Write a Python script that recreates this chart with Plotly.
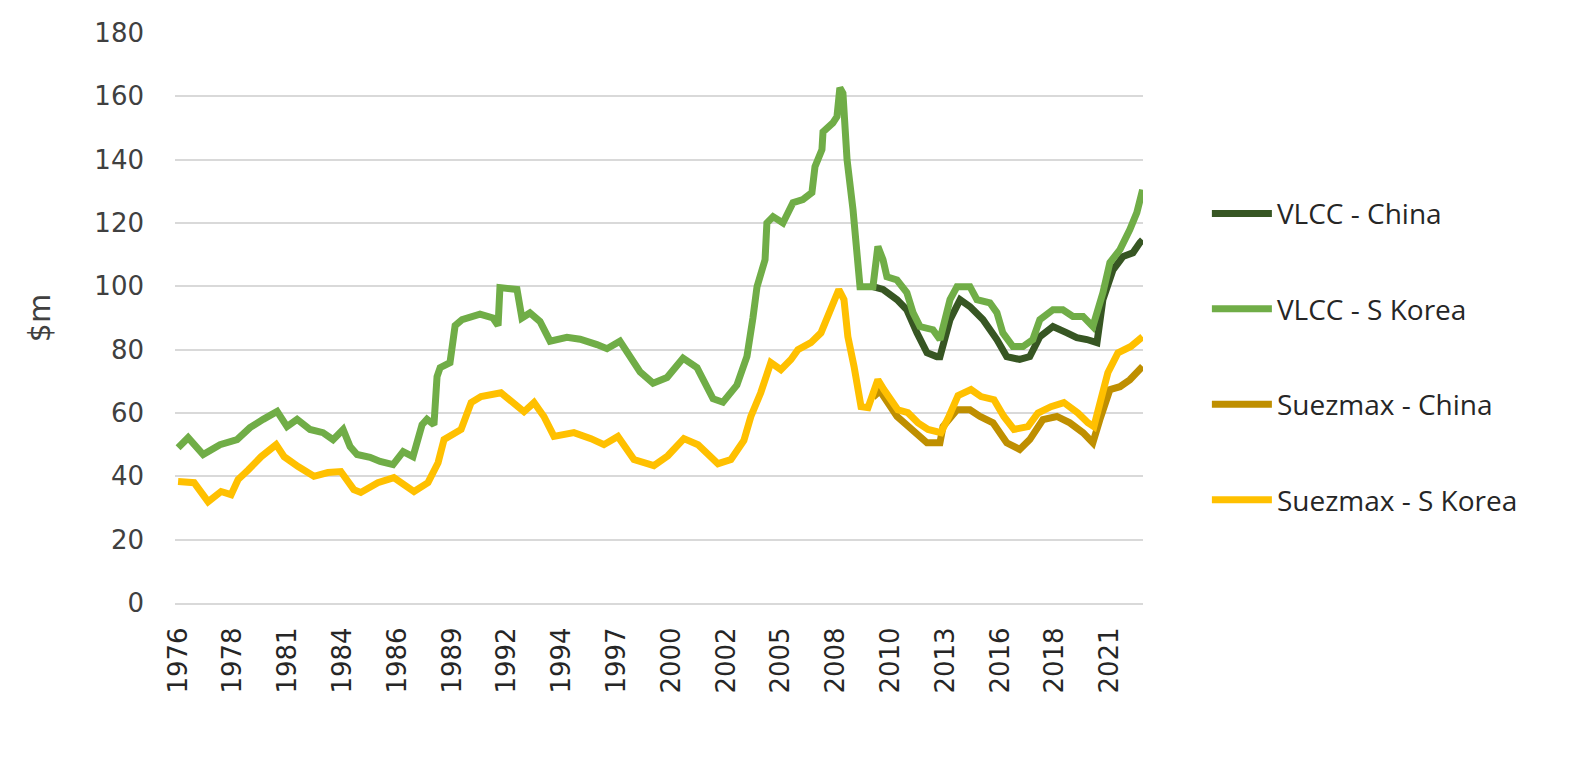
import plotly.graph_objects as go

# Decimal-year positions and values ($m)
vlcc_kr_t = [1976.0, 1976.49, 1977.22, 1978.04, 1978.87, 1979.50, 1980.14, 1980.82, 1981.30, 1981.79,
             1982.42, 1983.05, 1983.54, 1984.03, 1984.37, 1984.71, 1985.34, 1985.83, 1986.46, 1986.95,
             1987.43, 1987.87, 1988.11, 1988.45, 1988.60, 1988.75, 1989.23, 1989.48, 1989.82, 1990.21,
             1990.69, 1991.32, 1991.57, 1991.66, 1992.49, 1992.73, 1993.12, 1993.61, 1994.10, 1994.92,
             1995.56, 1996.38, 1996.87, 1997.50, 1997.84, 1998.48, 1999.11, 1999.79, 2000.57, 2001.25,
             2002.03, 2002.51, 2003.19, 2003.68, 2003.97, 2004.17, 2004.56, 2004.65, 2004.95, 2005.43,
             2005.92, 2006.40, 2006.84, 2006.99, 2007.33, 2007.38, 2007.86, 2008.06, 2008.20, 2008.35,
             2008.55, 2008.84, 2009.18, 2009.81, 2010.05, 2010.30, 2010.49, 2010.98, 2011.46, 2011.76,
             2012.10, 2012.73, 2013.07, 2013.56, 2013.90, 2014.53, 2014.87, 2015.50, 2015.84, 2016.13,
             2016.62, 2017.11, 2017.59, 2017.93, 2018.57, 2019.05, 2019.54, 2020.03, 2020.51, 2021.00,
             2021.34, 2021.83, 2022.31, 2022.65, 2022.93]
vlcc_kr_v = [49.0, 52.2, 46.9, 50.0, 51.6, 55.4, 58.0, 60.5, 55.7, 58.0,
             54.8, 53.8, 51.6, 54.8, 49.4, 46.9, 46.0, 44.7, 43.7, 47.8,
             46.2, 56.3, 58.0, 56.3, 71.5, 74.3, 75.9, 87.6, 89.5, 90.5,
             91.2, 90.0, 87.6, 99.6, 99.0, 90.0, 91.6, 88.9, 82.7, 83.9,
             83.3, 81.6, 80.3, 82.7, 79.0, 73.0, 69.4, 71.2, 77.3, 74.3,
             64.5, 63.4, 68.8, 77.9, 90.0, 99.9, 108.4, 120.0, 122.0, 120.0,
             126.4, 127.4, 129.6, 137.8, 143.2, 148.8, 151.6, 153.6, 162.7, 161.0,
             140.0, 124.2, 99.9, 99.9, 112.6, 108.4, 103.0, 102.0, 98.0, 91.7,
             87.3, 86.3, 83.2, 95.8, 99.9, 99.9, 95.8, 94.8, 91.7, 85.3,
             81.0, 81.0, 83.2, 89.5, 92.6, 92.6, 90.5, 90.5, 87.3, 98.0,
             107.5, 111.6, 117.9, 123.3, 130.5]

vlcc_cn_t = [2009.81, 2010.30, 2010.98, 2011.46, 2011.95, 2012.44, 2012.92, 2013.07, 2013.56, 2014.05,
             2014.53, 2015.16, 2015.84, 2016.32, 2016.95, 2017.44, 2017.93, 2018.57, 2019.25, 2019.73,
             2020.22, 2020.71, 2021.00, 2021.49, 2021.97, 2022.46, 2022.80, 2022.93]
vlcc_cn_v = [99.9, 99.0, 95.8, 92.6, 85.3, 79.0, 77.8, 77.8, 89.5, 95.8,
             93.6, 89.5, 83.2, 77.8, 76.9, 77.8, 84.1, 87.3, 85.3, 83.8,
             83.2, 82.2, 95.8, 105.2, 109.4, 110.6, 113.8, 114.7]

suez_kr_t = [1976.0, 1976.78, 1977.46, 1978.09, 1978.58, 1978.92, 1979.41, 1980.04, 1980.77, 1981.16,
             1981.84, 1982.61, 1983.29, 1983.92, 1984.55, 1984.89, 1985.72, 1986.50, 1986.99, 1987.48,
             1988.16, 1988.65, 1988.94, 1989.77, 1990.26, 1990.74, 1991.71, 1992.34, 1992.83, 1993.32,
             1993.80, 1994.29, 1995.26, 1996.09, 1996.72, 1997.40, 1998.18, 1999.15, 1999.83, 2000.61,
             2001.30, 2002.27, 2002.90, 2003.53, 2003.87, 2004.35, 2004.84, 2005.33, 2005.82, 2006.16,
             2006.79, 2007.28, 2007.76, 2008.15, 2008.40, 2008.59, 2008.89, 2009.23, 2009.57, 2010.05,
             2010.34, 2011.02, 2011.51, 2012.00, 2012.49, 2013.12, 2013.51, 2013.95, 2014.58, 2015.07,
             2015.70, 2016.18, 2016.67, 2017.35, 2017.84, 2018.47, 2019.10, 2019.78, 2020.27, 2020.56,
             2020.90, 2021.24, 2021.73, 2022.36, 2022.93]
suez_kr_v = [38.4, 38.0, 32.0, 35.2, 34.2, 39.0, 42.0, 46.2, 50.0, 46.2,
             43.1, 40.0, 41.2, 41.5, 35.8, 34.9, 38.0, 39.6, 37.4, 35.2,
             38.0, 44.3, 51.6, 54.8, 63.3, 65.2, 66.4, 63.3, 60.4, 63.3,
             58.9, 52.6, 53.8, 51.9, 50.0, 52.6, 45.3, 43.4, 46.5, 51.9,
             50.0, 44.0, 45.3, 51.3, 58.9, 66.4, 75.9, 73.7, 76.9, 80.0,
             82.2, 85.3, 92.6, 99.0, 95.8, 84.1, 74.7, 62.0, 61.7, 70.5,
             67.4, 61.0, 60.1, 56.9, 54.8, 53.8, 59.0, 65.5, 67.4, 65.2,
             64.2, 58.9, 54.8, 55.7, 60.0, 62.0, 63.3, 60.0, 56.9, 55.7,
             64.2, 72.7, 79.0, 81.0, 84.1]

suez_cn_t = [2009.81, 2010.15, 2010.98, 2011.95, 2012.44, 2013.07, 2013.22, 2013.90, 2014.53, 2015.02,
             2015.65, 2016.32, 2016.95, 2017.44, 2018.08, 2018.76, 2019.39, 2020.03, 2020.51, 2020.85,
             2021.34, 2021.83, 2022.31, 2022.93]
suez_cn_v = [65.0, 67.0, 58.9, 53.8, 50.6, 50.6, 55.7, 61.0, 61.0, 58.9,
             56.9, 50.6, 48.5, 51.6, 57.9, 58.9, 56.9, 53.8, 50.6, 57.9,
             67.4, 68.3, 70.5, 74.7]

tick_labels = ["1976", "1978", "1981", "1984", "1986", "1989", "1992", "1994", "1997",
               "2000", "2002", "2005", "2008", "2010", "2013", "2016", "2018", "2021"]
tick_month_offsets = [32 * i for i in range(len(tick_labels))]
tick_vals = [1976 + m / 12 for m in tick_month_offsets]

series = [
    ("VLCC - China", vlcc_cn_t, vlcc_cn_v, "#375623"),
    ("VLCC - S Korea", vlcc_kr_t, vlcc_kr_v, "#70ad47"),
    ("Suezmax - China", suez_cn_t, suez_cn_v, "#bf8f00"),
    ("Suezmax - S Korea", suez_kr_t, suez_kr_v, "#ffc000"),
]

fig = go.Figure()
for name, t, v, c in series:
    fig.add_trace(go.Scatter(x=t, y=v, mode="lines", name=name, legendgroup=name,
                             line=dict(color=c, width=7)))

fig.update_layout(
    width=1571, height=772,
    margin=dict(l=175, r=428, t=33, b=169),
    plot_bgcolor="white", paper_bgcolor="white",
    font=dict(family="DejaVu Sans, sans-serif", color="#404040"),
    showlegend=True,
    legend=dict(x=1.066, y=0.432, xanchor="left", yanchor="middle",
                font=dict(size=28, color="#262626", family="Open Sans"),
                traceorder="grouped", tracegroupgap=56,
                itemwidth=60, bgcolor="rgba(0,0,0,0)"),
)
fig.update_xaxes(range=[1975.85, 2022.95], tickmode="array", tickvals=tick_vals,
                 ticktext=tick_labels, tickangle=-90, showgrid=False, zeroline=False,
                 showline=True, linecolor="#d9d9d9", linewidth=2,
                 ticklabelstandoff=12,
                 tickfont=dict(size=26, family="DejaVu Sans", color="#262626"))
fig.update_yaxes(range=[0, 180], dtick=20, showgrid=True, gridcolor="#d9d9d9", gridwidth=2,
                 zeroline=False, showline=False,
                 tickfont=dict(size=26, family="DejaVu Sans", color="#404040"),
                 ticklabelstandoff=30,
                 title=dict(text="$m", font=dict(size=30, family="DejaVu Sans", color="#404040"),
                            standoff=34))

fig.write_html("out.html")
